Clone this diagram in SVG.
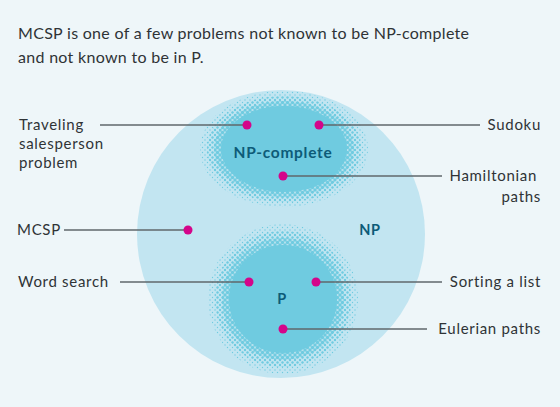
<svg xmlns="http://www.w3.org/2000/svg" width="560" height="407" viewBox="0 0 560 407">
<style>
.t{font-family:Lato,"Liberation Sans",sans-serif;font-size:15px;fill:#2f3336;letter-spacing:0.7px}
.title{font-family:Lato,"Liberation Sans",sans-serif;font-size:16px;fill:#2f3336;letter-spacing:0.3px}
.in{font-family:Lato,"Liberation Sans",sans-serif;font-size:14.5px;font-weight:bold;fill:#0d5b78;text-anchor:middle;letter-spacing:0.7px}
.ln{stroke:#5f676b;stroke-width:1.3;fill:none}
.dot{fill:#d4058a}
.end{text-anchor:end}
</style>
<defs>
<pattern id="d1" patternUnits="userSpaceOnUse" width="5" height="5"><circle cx="0" cy="0" r="0.7" fill="#6fcbe0"/><circle cx="5" cy="0" r="0.7" fill="#6fcbe0"/><circle cx="0" cy="5" r="0.7" fill="#6fcbe0"/><circle cx="5" cy="5" r="0.7" fill="#6fcbe0"/><circle cx="2.5" cy="2.5" r="0.7" fill="#6fcbe0"/></pattern>
<pattern id="d2" patternUnits="userSpaceOnUse" width="5" height="5"><circle cx="0" cy="0" r="1.2" fill="#6fcbe0"/><circle cx="5" cy="0" r="1.2" fill="#6fcbe0"/><circle cx="0" cy="5" r="1.2" fill="#6fcbe0"/><circle cx="5" cy="5" r="1.2" fill="#6fcbe0"/><circle cx="2.5" cy="2.5" r="1.2" fill="#6fcbe0"/></pattern>
<pattern id="d3" patternUnits="userSpaceOnUse" width="5" height="5"><circle cx="0" cy="0" r="1.7" fill="#6fcbe0"/><circle cx="5" cy="0" r="1.7" fill="#6fcbe0"/><circle cx="0" cy="5" r="1.7" fill="#6fcbe0"/><circle cx="5" cy="5" r="1.7" fill="#6fcbe0"/><circle cx="2.5" cy="2.5" r="1.7" fill="#6fcbe0"/></pattern>
</defs>
<rect width="560" height="407" fill="#eef6f9"/>
<text class="title" x="18" y="39">MCSP is one of a few problems not known to be NP-complete</text>
<text class="title" x="18" y="63">and not known to be in P.</text>
<g id="np">
<circle cx="281" cy="234" r="144" fill="#c2e5f1"/>
<text class="in" x="370" y="235">NP</text>
</g>
<g id="np-complete">
<ellipse cx="284" cy="149" rx="84" ry="58" fill="url(#d1)"/>
<ellipse cx="284" cy="149" rx="77" ry="53" fill="url(#d2)"/>
<ellipse cx="284" cy="149" rx="70" ry="48" fill="url(#d3)"/>
<ellipse cx="284" cy="149" rx="63" ry="43" fill="#6fcbe0"/>
<text class="in" x="283" y="158" style="font-size:15.5px">NP-complete</text>
</g>
<g id="p">
<circle cx="283" cy="299" r="75" fill="url(#d1)"/>
<circle cx="283" cy="299" r="68" fill="url(#d2)"/>
<circle cx="283" cy="299" r="61" fill="url(#d3)"/>
<circle cx="283" cy="299" r="54" fill="#6fcbe0"/>
<text class="in" x="282" y="304">P</text>
</g>
<g id="connectors">
<line class="ln" x1="100" y1="125" x2="247" y2="125"/>
<line class="ln" x1="319" y1="125" x2="480" y2="125"/>
<line class="ln" x1="283" y1="176" x2="442" y2="176"/>
<line class="ln" x1="64" y1="230" x2="188" y2="230"/>
<line class="ln" x1="120" y1="282" x2="249" y2="282"/>
<line class="ln" x1="316" y1="282" x2="442" y2="282"/>
<line class="ln" x1="283" y1="329" x2="427" y2="329"/>
</g>
<g id="tsp"><circle class="dot" cx="247" cy="125" r="4.5"/><text class="t" x="19" y="130">Traveling</text><text class="t" x="19" y="149">salesperson</text><text class="t" x="19" y="168">problem</text></g>
<g id="sudoku"><circle class="dot" cx="319" cy="125" r="4.5"/><text class="t end" x="541" y="130">Sudoku</text></g>
<g id="hamiltonian"><circle class="dot" cx="283" cy="176" r="4.5"/><text class="t end" x="537" y="181">Hamiltonian</text><text class="t end" x="541" y="202">paths</text></g>
<g id="mcsp"><circle class="dot" cx="188" cy="230" r="4.5"/><text class="t" x="17" y="235">MCSP</text></g>
<g id="word-search"><circle class="dot" cx="249" cy="282" r="4.5"/><text class="t" x="18" y="287">Word search</text></g>
<g id="sorting"><circle class="dot" cx="316" cy="282" r="4.5"/><text class="t end" x="541" y="287">Sorting a list</text></g>
<g id="eulerian"><circle class="dot" cx="283" cy="329" r="4.5"/><text class="t end" x="541" y="334">Eulerian paths</text></g>
</svg>
